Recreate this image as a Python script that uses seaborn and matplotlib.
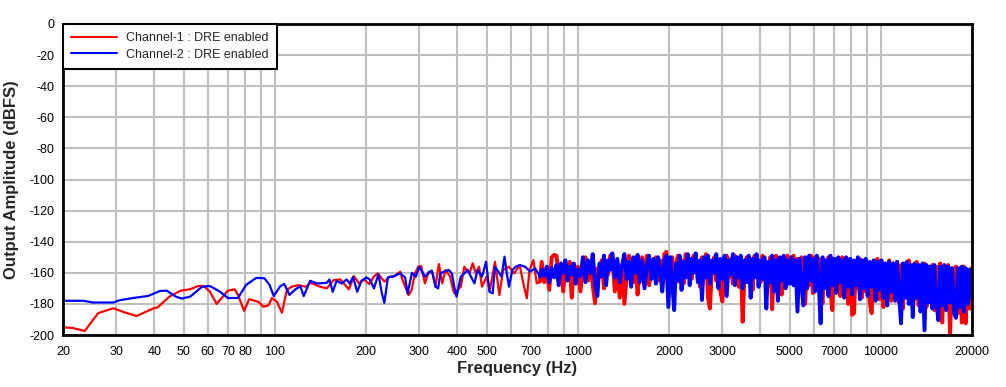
import matplotlib
matplotlib.use("Agg")
import matplotlib.pyplot as plt
import seaborn as sns
import pandas as pd
import numpy as np

# ---------------- data ----------------
# Smooth low-frequency part, channel 1 (red)
ch1_low_freq = [20, 21.5, 23.6, 26.1, 29.3, 32, 35, 39.6, 41.1, 44.9, 48.9, 52.5, 55.9, 58.3,
                61, 64.3, 70, 73.7, 75.6, 79.2, 82.3, 88.2, 91.7, 95.4, 97.8, 101.6, 105.6,
                109.6, 113.5, 119.9, 126.6, 130.9, 141.2, 148.6, 156.4, 164.7, 175.6, 182.5,
                189.7, 197.3, 205, 213, 218.5, 230, 239, 246, 259.6, 264, 276.5, 283, 290,
                298, 304, 313, 322, 332, 339, 348, 357, 366, 379, 388, 392, 411, 422, 439,
                450, 461, 472, 483, 500, 513, 533, 551, 567, 593, 617, 643, 661, 679, 693,
                714, 732, 750]
ch1_low_db = [-195, -195.5, -197.4, -186, -182.8, -185.5, -187.8, -183, -182.2, -175.3, -171.5,
              -170.6, -168.5, -168.5, -172, -180, -171.5, -170.6, -174.2, -184.5, -177, -178.6,
              -181.8, -180.9, -176.2, -178.6, -185.7, -171.1, -169, -167.9, -169, -166.4, -169,
              -170, -164.7, -164.3, -170.7, -162.1, -166.8, -164.3, -167.3, -162.1, -160.4,
              -165.7, -162.5, -162.5, -159.3, -164.7, -174.3, -171, -160.4, -156, -155.6,
              -166.8, -159.3, -160.4, -168.9, -154.4, -166.8, -158.2, -162.5, -171.1, -173.2,
              -168.9, -156.1, -160.4, -153.9, -160.4, -156.1, -168.9, -162.5, -171.1, -152.9,
              -174.3, -158.2, -156.1, -160.4, -155, -166.8, -176.4, -158.2, -151.8, -166.8,
              -165.7]

# Smooth low-frequency part, channel 2 (blue)
ch2_low_freq = [20, 23.4, 25.1, 29.3, 30.8, 34.1, 38.2, 41.8, 44, 47.1, 49.3, 52.6, 57.5, 61.1,
                65.8, 70, 75.6, 80.4, 86.8, 92.4, 96.1, 99.2, 104.4, 107.5, 111.8, 116.9, 121.4,
                124.6, 130.9, 137.8, 148.6, 151.4, 155.3, 160, 166.1, 172.6, 176.8, 181.3, 187,
                193.3, 200.7, 205.9, 212.5, 219.8, 225.7, 229.9, 236.2, 248.4, 259.3, 269.2,
                274.4, 283.6, 291.8, 300, 313, 325, 330, 339, 346, 352, 361, 375, 384, 392,
                398, 411, 422, 433, 444, 456, 467, 483, 498, 511, 524, 533, 547, 560, 573,
                583, 593, 608, 624, 643, 670, 697, 723, 750]
ch2_low_db = [-178, -178, -179.1, -179.1, -177.6, -176.2, -174.9, -171.7, -171.5, -175.3, -176.6,
              -175.3, -169, -168.5, -172, -176.2, -176.2, -167.8, -163.3, -163.5, -167.8, -174.9,
              -168.5, -167.2, -174.2, -170.7, -168.6, -175, -165.1, -166.9, -166.4, -164.3,
              -172.2, -165.1, -166.9, -164.3, -166.9, -162.6, -172.2, -165.1, -163, -164.3,
              -170, -160.9, -173.3, -179.3, -163, -162.1, -160.4, -163, -173.3, -160, -162.6,
              -156.1, -162.5, -159.3, -158.6, -168.9, -170, -160.4, -159.3, -158.2, -160.4,
              -170, -175.4, -162.5, -160.4, -158.2, -162.5, -166.8, -158.2, -162.5, -152.9,
              -172.2, -173.2, -156.1, -159.3, -162.5, -149.6, -160.4, -168.9, -158.2, -156.1,
              -155, -156.1, -159.3, -157.1, -162.5]

# Dense (noisy) part, shared frequency list
dense_freq = [760, 775, 790, 805, 820, 835, 850, 865, 880, 895, 910, 925, 940, 955, 970, 985, 1000,
              1020, 1040, 1060, 1080, 1100, 1120, 1140, 1160, 1180, 1200, 1220, 1240, 1260, 1280,
              1300, 1325, 1350, 1375, 1400, 1425, 1450, 1475, 1500, 1525, 1550, 1575, 1600, 1630,
              1660, 1690, 1720, 1750, 1780, 1810, 1840, 1870, 1900, 1930, 1960, 1990,
              2020, 2050, 2080, 2110, 2140, 2170, 2200, 2235, 2270, 2305, 2340, 2375, 2410, 2450,
              2490, 2530, 2570, 2610, 2650, 2690, 2730, 2775, 2820, 2865, 2910, 2955, 3000, 3050,
              3100, 3150, 3200, 3250, 3300, 3350, 3400, 3450, 3500, 3555, 3610, 3665, 3720, 3775,
              3830, 3890, 3950, 4010, 4070, 4130, 4190, 4250, 4315, 4380, 4445, 4510, 4575, 4640,
              4710, 4780, 4850, 4920, 4990,
              5070, 5150, 5230, 5310, 5390, 5470, 5550, 5630, 5715, 5800, 5885, 5970, 6060, 6150,
              6240, 6330, 6425, 6520, 6620, 6720, 6820, 6920, 7025, 7130, 7240, 7350, 7460, 7570,
              7685, 7800, 7920, 8040, 8160, 8280, 8400, 8530, 8660, 8790, 8920, 9050, 9190, 9330,
              9470, 9610, 9750, 9900, 10050, 10200, 10350, 10500, 10660, 10820, 10980, 11150,
              11320, 11490, 11660, 11830, 12010, 12190, 12370, 12560, 12750, 12940, 13130, 13330,
              13530, 13730, 13940, 14150, 14360, 14580, 14800, 15020, 15250, 15480, 15710, 15950,
              16190, 16430, 16680, 16930, 17180, 17440, 17700, 17970, 18240, 18510, 18790, 19070,
              19360, 19650, 19950]

ch1_dense_db = [-153, -166, -158, -171, -150, -148.5, -149, -160, -155, -172, -157, -162, -153, -176,
                -158, -163, -156,
                -172, -158, -150, -165, -154, -168, -179.5, -157, -163, -152, -170, -156, -161, -149,
                -148, -172, -158, -176, -155, -180, -162, -149, -158, -166, -153, -174, -157, -150,
                -163, -149, -168, -155, -160, -150, -165, -152, -170, -148, -146.5, -176,
                -160, -150, -168, -155, -149, -166, -152, -167, -148, -160, -151, -164, -149, -158,
                -153, -169, -150, -162, -148, -176, -183, -155, -150, -165, -152, -172, -178.5, -156,
                -149, -163, -151, -167, -149, -158, -169, -153, -191.5, -157, -150, -164, -152, -171,
                -149, -160, -152, -166, -149, -158, -153, -168, -150, -183.5, -156, -149, -162, -151,
                -174, -150, -159, -149, -165,
                -156, -149, -164, -151, -170, -150, -165, -180, -152, -168, -149, -173, -150, -165,
                -151, -171, -179.5, -152, -167, -150, -172, -184, -151, -168, -152, -175, -150, -166,
                -153, -180, -151, -187, -186, -153, -170, -151, -176, -152, -172, -154, -179, -186,
                -153, -173, -151, -177, -153, -182, -155, -174, -152, -178, -154, -175,
                -153, -179, -155, -183, -154, -176, -152, -180, -155, -177, -153, -181,
                -156, -178, -154, -182, -156, -179, -155, -184, -156, -180, -154, -192,
                -156, -183, -155, -200, -157, -181, -156, -186, -157, -192, -156, -192.5,
                -158, -183, -157]

ch2_dense_db = [-158, -162, -156, -166, -157, -163, -155, -168, -154, -160, -152, -165, -156, -161,
                -154, -167, -158,
                -162, -150, -166, -152, -160, -148, -167, -175, -154, -162, -149, -168, -152, -158,
                -147.5, -163, -151, -166, -155, -148, -164, -153, -169, -150, -160, -148.5, -166, -152,
                -170, -155, -149, -164, -151, -167, -150, -158, -172, -152, -149, -182,
                -150, -166, -184, -154, -165, -149, -171, -153, -163, -148, -168, -151, -160, -147.5,
                -166, -152, -177.5, -150, -163, -149, -167, -152, -160, -148, -170, -151, -164, -149,
                -175, -152, -161, -148, -168, -150, -163, -149, -170, -152, -166, -149, -176, -151,
                -163, -148, -169, -152, -164, -150, -183, -153, -166, -149, -172, -152, -178, -150,
                -165, -149, -170, -152, -167,
                -150, -168, -152, -185, -151, -166, -181, -150, -170, -149, -165, -151, -172, -149,
                -167, -192.5, -150, -170, -152, -175, -149, -168, -151, -173, -150, -166, -152, -176,
                -150, -169, -151, -174, -152, -168, -150, -177, -152, -170, -151, -175, -153, -169,
                -152, -178, -153, -171, -152, -176, -154, -181, -153, -172, -154, -178,
                -153, -174, -192.5, -154, -176, -153, -180, -155, -188.5, -154, -176, -155,
                -185, -154, -197, -155, -179, -156, -183, -155, -178, -190.5, -156, -181,
                -155, -184, -156, -179, -157, -186, -189, -157, -182, -156, -185, -157,
                -180, -158, -176]

legend_labels = ["Channel-1 : DRE enabled", "Channel-2 : DRE enabled"]
x_tick_values = [20, 30, 40, 50, 60, 70, 80, 100, 200, 300, 400, 500, 700, 1000, 2000, 3000,
                 5000, 7000, 10000, 20000]
x_grid_extra = [90, 600, 800, 900, 4000, 6000, 8000, 9000]
y_tick_values = [0, -20, -40, -60, -80, -100, -120, -140, -160, -180, -200]

# ---------------- build tables ----------------
df1_low = pd.DataFrame({"freq": ch1_low_freq, "db": ch1_low_db})
df2_low = pd.DataFrame({"freq": ch2_low_freq, "db": ch2_low_db})
df1_dense = pd.DataFrame({"freq": ch1_low_freq[-1:] + dense_freq, "db": ch1_low_db[-1:] + ch1_dense_db})
df2_dense = pd.DataFrame({"freq": ch2_low_freq[-1:] + dense_freq, "db": ch2_low_db[-1:] + ch2_dense_db})

# ---------------- style ----------------
sns.set_theme(style="white")
plt.rcParams["font.family"] = ["Liberation Sans", "DejaVu Sans"]
plt.rcParams["axes.unicode_minus"] = False

fig = plt.figure(figsize=(10.06, 3.87), dpi=100)
ax = fig.add_axes([63 / 1006, 1 - 335 / 387, (972 - 63) / 1006, (335 - 24) / 387])

RED, BLUE = "#FF0000", "#0000FF"
sns.lineplot(data=df1_low, x="freq", y="db", ax=ax, color=RED, lw=1.6,
             estimator=None, sort=False, label=legend_labels[0])
sns.lineplot(data=df1_dense, x="freq", y="db", ax=ax, color=RED, lw=2.8,
             estimator=None, sort=False, legend=False)
sns.lineplot(data=df2_low, x="freq", y="db", ax=ax, color=BLUE, lw=1.6,
             estimator=None, sort=False, label=legend_labels[1])
sns.lineplot(data=df2_dense, x="freq", y="db", ax=ax, color=BLUE, lw=2.8,
             estimator=None, sort=False, legend=False)

ax.set_xscale("log")
ax.set_xlim(20, 20000)
ax.set_ylim(-200, 0)

ax.set_xticks(x_tick_values)
ax.set_xticklabels([str(v) for v in x_tick_values])
ax.set_xticks(x_grid_extra, minor=True)
ax.set_xticklabels([], minor=True)
ax.set_yticks(y_tick_values)
ax.set_yticklabels([str(v) for v in y_tick_values])

ax.grid(True, which="both", color="#C0C0C0", lw=1.5)
ax.set_axisbelow(True)
ax.tick_params(axis="both", which="both", length=0, labelsize=9, colors="black")
ax.tick_params(axis="x", pad=8)
ax.tick_params(axis="y", pad=6)

for s in ax.spines.values():
    s.set_color("black")
    s.set_linewidth(2)
    s.set_visible(True)

ax.set_xlabel("Frequency (Hz)", fontsize=12, fontweight="bold", labelpad=2)
ax.set_ylabel("Output Amplitude (dBFS)", fontsize=12, fontweight="bold", labelpad=8)

leg = ax.legend(loc="upper left", bbox_to_anchor=(0, 1), borderaxespad=0, fontsize=9,
                frameon=True, fancybox=False, framealpha=1, edgecolor="black",
                handlelength=3.7, borderpad=0.65, labelspacing=0.35, handletextpad=0.7)
leg.get_frame().set_linewidth(1.5)
for h in leg.get_lines():
    h.set_linewidth(1.5)

fig.savefig("out.png", dpi=100, facecolor="white")
